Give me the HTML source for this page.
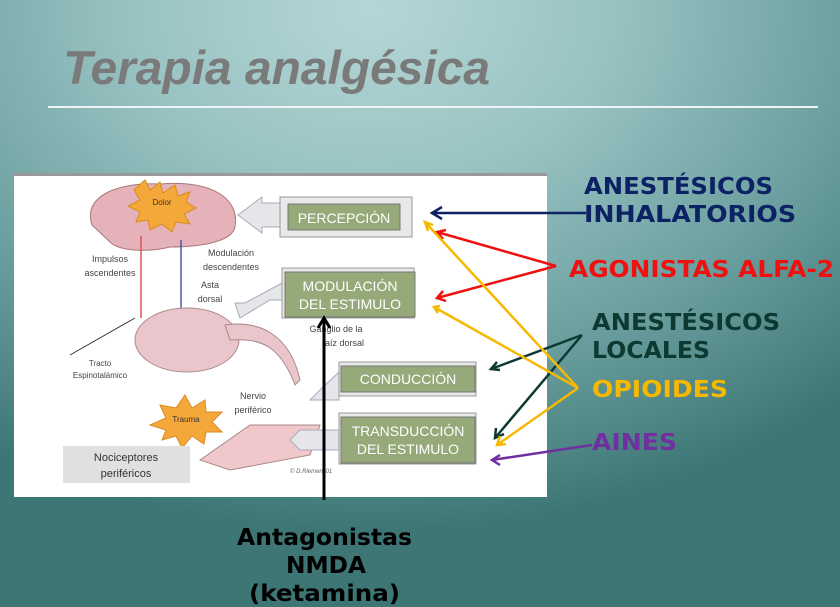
<!DOCTYPE html>
<html><head><meta charset="utf-8"><style>
html,body{margin:0;padding:0}
body{width:840px;height:607px;overflow:hidden;position:relative;
background:radial-gradient(ellipse 700px 520px at 370px 10px,#b6d6d6 0%,#98c2c2 35%,#6a9e9e 70%,#3e7676 100%);}
svg{position:absolute;left:0;top:0}
</style></head><body>
<svg width="840" height="607" xmlns="http://www.w3.org/2000/svg" font-family="Liberation Sans, sans-serif">
<text x="63" y="84" font-size="47" font-weight="bold" font-style="italic" fill="#7a7a7a" textLength="427" lengthAdjust="spacingAndGlyphs">Terapia analgésica</text>
<rect x="48" y="106" width="770" height="2" fill="#eef4f4"/>
<rect x="14" y="173" width="533" height="324" fill="#fff"/>
<rect x="14" y="173" width="533" height="3" fill="#999"/>
<!-- brain -->
<path d="M92,225 C82,195 120,182 160,184 C210,180 240,197 235,227 C232,242 200,247 170,247 C150,252 120,252 110,242 Z" fill="#e4b2b8" stroke="#a77" />
<polygon points="145,180 150,190 160,182 163,193 175,185 178,196 190,192 186,202 196,208 184,214 190,224 176,222 172,232 162,224 150,230 148,220 136,222 140,212 128,206 140,200 134,190" fill="#f5a83a" stroke="#d78a20"/>
<text x="162" y="205" font-size="8" text-anchor="middle" fill="#333">Dolor</text>
<line x1="141" y1="236" x2="141" y2="318" stroke="#d55" stroke-width="1.5"/>
<line x1="181" y1="240" x2="181" y2="320" stroke="#4a5aa0" stroke-width="1.5"/>
<text x="110" y="262" font-size="9" text-anchor="middle" fill="#444">Impulsos</text>
<text x="110" y="276" font-size="9" text-anchor="middle" fill="#444">ascendentes</text>
<text x="231" y="256" font-size="9" text-anchor="middle" fill="#444">Modulación</text>
<text x="231" y="270" font-size="9" text-anchor="middle" fill="#444">descendentes</text>
<text x="210" y="288" font-size="9" text-anchor="middle" fill="#444">Asta</text>
<text x="210" y="302" font-size="9" text-anchor="middle" fill="#444">dorsal</text>
<ellipse cx="187" cy="340" rx="52" ry="32" fill="#eac6cc" stroke="#a88"/>
<path d="M225,325 C260,320 290,335 300,380 L295,385 C280,345 260,338 230,340 Z" fill="#eac6cc" stroke="#a88"/>
<line x1="70" y1="355" x2="135" y2="318" stroke="#333"/>
<text x="100" y="366" font-size="8" text-anchor="middle" fill="#444">Tracto</text>
<text x="100" y="378" font-size="8" text-anchor="middle" fill="#444">Espinotalámico</text>
<text x="336" y="332" font-size="9" text-anchor="middle" fill="#444">Ganglio de la</text>
<text x="343" y="346" font-size="9" text-anchor="middle" fill="#444">raíz dorsal</text>
<text x="253" y="399" font-size="9" text-anchor="middle" fill="#444">Nervio</text>
<text x="253" y="413" font-size="9" text-anchor="middle" fill="#444">periférico</text>
<polygon points="185,395 192,408 205,400 206,412 222,412 212,422 222,432 206,432 204,444 192,436 182,448 176,436 162,440 166,430 150,425 166,418 160,405 176,408" fill="#f5a83a" stroke="#d78a20"/>
<text x="186" y="422" font-size="8" text-anchor="middle" fill="#333">Trauma</text>
<polygon points="200,460 250,425 320,425 310,455 230,470" fill="#f0c8cc" stroke="#a88"/>
<rect x="63" y="446" width="127" height="37" fill="#e0e0e0"/>
<text x="126" y="461" font-size="11" text-anchor="middle" fill="#333">Nociceptores</text>
<text x="126" y="477" font-size="11" text-anchor="middle" fill="#333">periféricos</text>
<!-- block arrows -->
<polygon points="282,203 262,203 262,197 238,215 262,233 262,227 282,227" fill="#e4e6ea" stroke="#aab"/>
<polygon points="282,283 245,303 235,303 240,318 270,300 282,300" fill="#e4e6ea" stroke="#aab"/>
<polygon points="339,372 320,390 310,400 339,400" fill="#e4e6ea" stroke="#aab"/>
<polygon points="339,430 300,430 290,440 300,450 339,450" fill="#e4e6ea" stroke="#aab"/>
<!-- boxes -->
<rect x="280" y="197" width="132" height="40" fill="#e8e8e8" stroke="#999"/>
<rect x="288" y="204" width="112" height="26" fill="#95aa78" stroke="#777"/>
<text x="344" y="223" font-size="14" text-anchor="middle" fill="#fff">PERCEPCIÓN</text>
<rect x="282" y="268" width="132" height="50" fill="#e8e8e8" stroke="#999"/>
<rect x="285" y="272" width="130" height="45" fill="#95aa78" stroke="#777"/>
<text x="350" y="291" font-size="14" text-anchor="middle" fill="#fff">MODULACIÓN</text>
<text x="350" y="309" font-size="14" text-anchor="middle" fill="#fff">DEL ESTIMULO</text>
<rect x="339" y="362" width="137" height="34" fill="#e8e8e8" stroke="#999"/>
<rect x="341" y="366" width="134" height="26" fill="#95aa78" stroke="#777"/>
<text x="408" y="384" font-size="14" text-anchor="middle" fill="#fff">CONDUCCIÓN</text>
<rect x="339" y="413" width="137" height="51" fill="#e8e8e8" stroke="#999"/>
<rect x="341" y="417" width="134" height="46" fill="#95aa78" stroke="#777"/>
<text x="408" y="436" font-size="14" text-anchor="middle" fill="#fff">TRANSDUCCIÓN</text>
<text x="408" y="454" font-size="14" text-anchor="middle" fill="#fff">DEL ESTIMULO</text>
<text x="290" y="473" font-size="6" font-style="italic" fill="#666">© D.Rlemen '01</text>
<!-- connectors -->
<g stroke-width="2.5" fill="none">
<path d="M586,213 L432,213 M442,207 L432,213 L442,219" stroke="#0d2265"/>
<path d="M556,266 L437,232 M446,230 L437,232 L443,239 M556,266 L437,298 M443,291 L437,298 L446,301" stroke="#f01010"/>
<path d="M582,335 L491,369 M497,362 L491,369 L500,370 M582,335 L495,438 M496,428 L495,438 L504,434" stroke="#0c3a33"/>
<path d="M578,388 L425,222 M428,231 L425,222 L433,225 M578,388 L434,307 M440,306 L434,307 L438,313 M578,388 L497,445 M500,436 L497,445 L506,444" stroke="#f6b800"/>
<path d="M592,445 L492,460 M500,455 L492,460 L500,465" stroke="#7030a0"/>
<path d="M324,500 L324,320 M318,328 L324,318 L330,328" stroke="#000" stroke-width="3"/>
</g>
<g font-family="DejaVu Sans, sans-serif" font-weight="bold" font-size="23" lengthAdjust="spacingAndGlyphs">
<text x="584" y="194" fill="#0d2265" textLength="189" lengthAdjust="spacingAndGlyphs">ANESTÉSICOS</text>
<text x="584" y="222" fill="#0d2265" textLength="212" lengthAdjust="spacingAndGlyphs">INHALATORIOS</text>
<text x="569" y="277" fill="#f01010" textLength="265" lengthAdjust="spacingAndGlyphs">AGONISTAS ALFA-2</text>
<text x="592" y="330" fill="#0c3a33" textLength="188" lengthAdjust="spacingAndGlyphs">ANESTÉSICOS</text>
<text x="592" y="358" fill="#0c3a33" textLength="118" lengthAdjust="spacingAndGlyphs">LOCALES</text>
<text x="592" y="397" fill="#f6b800" textLength="136" lengthAdjust="spacingAndGlyphs">OPIOIDES</text>
<text x="592" y="450" fill="#7030a0" textLength="85" lengthAdjust="spacingAndGlyphs">AINES</text>
<text x="237" y="545" fill="#000" textLength="175" lengthAdjust="spacingAndGlyphs">Antagonistas</text>
<text x="286" y="573" fill="#000" textLength="80" lengthAdjust="spacingAndGlyphs">NMDA</text>
<text x="249" y="601" fill="#000" textLength="151" lengthAdjust="spacingAndGlyphs">(ketamina)</text>
</g>
</svg>
</body></html>
